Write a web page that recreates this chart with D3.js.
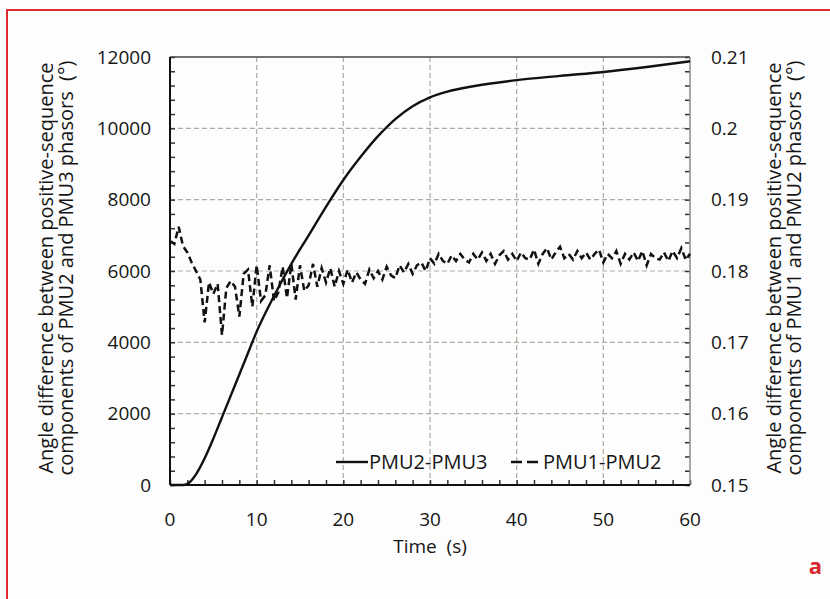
<!DOCTYPE html>
<html>
<head>
<meta charset="utf-8">
<script src="https://cdn.jsdelivr.net/npm/d3@7"></script>
<style>
  body { margin: 0; background: #fdfdfd; }
  svg text { font-family: "Open Sans", sans-serif; fill: #151515; }
</style>
</head>
<body>
<svg id="chart" width="830" height="599"></svg>
<script>
// PMU2-PMU3 (left axis, degrees)
const solidTime = [0, 1.5, 2, 3, 4, 5, 6, 7, 8, 9, 10, 12, 14, 16, 18, 20, 22, 24, 26, 28, 30, 32, 35, 40, 45, 50, 55, 60]
const solidValues = [0, 0, 30, 300, 750, 1300, 1900, 2500, 3100, 3700, 4300, 5300, 6200, 7000, 7800, 8550,
    9200, 9780, 10260, 10620, 10870, 11030, 11180, 11350, 11470, 11580, 11720, 11880]

// PMU1-PMU2 (right axis, degrees), sampled every 0.5 s from 0 to 60
const dashedStep = 0.5
const dashedValues = [
    0.1842, 0.1838, 0.1862, 0.1835, 0.1826, 0.1812,
    0.1800, 0.1788, 0.1728, 0.1784, 0.1768, 0.1782,
    0.1710, 0.1776, 0.1786, 0.1778, 0.1736, 0.1796,
    0.1802, 0.1750, 0.1808, 0.1758, 0.1766, 0.1808,
    0.1758, 0.1770, 0.1806, 0.1762, 0.1810, 0.1760,
    0.1808, 0.1772, 0.1780, 0.1810, 0.1778, 0.1804,
    0.1784, 0.1804, 0.1778, 0.1800, 0.1782, 0.1802,
    0.1784, 0.1798, 0.1788, 0.1782, 0.1802, 0.1790,
    0.1800, 0.1788, 0.1806, 0.1794, 0.1790, 0.1808,
    0.1798, 0.1810, 0.1796, 0.1808, 0.1812, 0.1800,
    0.1818, 0.1810, 0.1824, 0.1814, 0.1810, 0.1822,
    0.1814, 0.1824, 0.1816, 0.1812, 0.1824, 0.1816,
    0.1826, 0.1814, 0.1824, 0.1810, 0.1822, 0.1828,
    0.1816, 0.1824, 0.1814, 0.1826, 0.1818, 0.1816,
    0.1830, 0.1810, 0.1824, 0.1832, 0.1816, 0.1826,
    0.1834, 0.1818, 0.1824, 0.1816, 0.1828, 0.1818,
    0.1826, 0.1816, 0.1824, 0.1830, 0.1812, 0.1824,
    0.1818, 0.1828, 0.1810, 0.1824, 0.1816, 0.1826,
    0.1814, 0.1828, 0.1808, 0.1824, 0.1818, 0.1816,
    0.1826, 0.1814, 0.1828, 0.1818, 0.1832, 0.1816,
    0.1824
]

const xTicks = [0, 10, 20, 30, 40, 50, 60]
const leftTicks = [0, 2000, 4000, 6000, 8000, 10000, 12000]
const rightTicks = [0.15, 0.16, 0.17, 0.18, 0.19, 0.2, 0.21]
const seriesNames = ["PMU2-PMU3", "PMU1-PMU2"]

const plot = {left: 170, right: 690, top: 57, bottom: 485}
const svg = d3.select("#chart")

// red frame around the figure
svg.append("rect")
    .attr("x", 7).attr("y", 10)
    .attr("width", 840).attr("height", 620)
    .attr("fill", "none")
    .attr("stroke", "#de2b33")
    .attr("stroke-width", 2)

let x = d3.scaleLinear().domain([0, 60]).range([plot.left, plot.right])
let yL = d3.scaleLinear().domain([0, 12000]).range([plot.bottom, plot.top])
let yR = d3.scaleLinear().domain([0.15, 0.21]).range([plot.bottom, plot.top])

// dashed grid
let grid = svg.append("g")
    .attr("stroke", "#b3aaa2")
    .attr("stroke-width", 1.2)
    .attr("stroke-dasharray", "5,3")
grid.selectAll("line.v")
    .data(xTicks.slice(1, -1))
    .join("line")
        .attr("x1", d => x(d)).attr("x2", d => x(d))
        .attr("y1", plot.top).attr("y2", plot.bottom)
grid.selectAll("line.h")
    .data(leftTicks.slice(1, -1))
    .join("line")
        .attr("x1", plot.left).attr("x2", plot.right)
        .attr("y1", d => yL(d)).attr("y2", d => yL(d))

// axes with inward minor ticks
let xAxis = d3.axisTop(x).tickValues(d3.range(0, 61, 2)).tickSize(5).tickFormat("")
svg.append("g").attr("transform", `translate(0,${plot.bottom})`).call(xAxis)
let yAxisL = d3.axisRight(yL).tickValues(d3.range(0, 12001, 400)).tickSize(5).tickFormat("")
svg.append("g").attr("transform", `translate(${plot.left},0)`).call(yAxisL)
let yAxisR = d3.axisLeft(yR).tickValues(d3.range(0, 31).map(i => 0.15 + i * 0.002)).tickSize(5).tickFormat("")
svg.append("g").attr("transform", `translate(${plot.right},0)`).call(yAxisR)
svg.selectAll(".domain").remove()
svg.selectAll(".tick line").attr("stroke", "#333").attr("stroke-width", 1.5)

// plot frame
svg.append("line").attr("x1", plot.left).attr("x2", plot.right).attr("y1", plot.top).attr("y2", plot.top)
    .attr("stroke", "#444").attr("stroke-width", 1.5)
svg.append("line").attr("x1", plot.right).attr("x2", plot.right).attr("y1", plot.top).attr("y2", plot.bottom)
    .attr("stroke", "#888").attr("stroke-width", 1.5)
svg.append("line").attr("x1", plot.left).attr("x2", plot.left).attr("y1", plot.top).attr("y2", plot.bottom)
    .attr("stroke", "#111").attr("stroke-width", 2)
svg.append("line").attr("x1", plot.left).attr("x2", plot.right).attr("y1", plot.bottom).attr("y2", plot.bottom)
    .attr("stroke", "#111").attr("stroke-width", 2)

// tick labels
svg.append("g").selectAll("text")
    .data(xTicks)
    .join("text")
        .attr("x", d => x(d)).attr("y", 519)
        .attr("dy", "0.35em")
        .attr("text-anchor", "middle")
        .attr("font-size", 19)
        .text(d => d)
svg.append("g").selectAll("text")
    .data(leftTicks)
    .join("text")
        .attr("x", 151).attr("y", d => yL(d))
        .attr("dy", "0.35em")
        .attr("text-anchor", "end")
        .attr("font-size", 19)
        .text(d => d)
svg.append("g").selectAll("text")
    .data(rightTicks)
    .join("text")
        .attr("x", 711).attr("y", d => yR(d))
        .attr("dy", "0.35em")
        .attr("font-size", 19)
        .text(d => d3.format("~g")(d))

// axis titles
function sideTitle(cx, lines) {
    svg.append("text")
        .attr("transform", `translate(${cx},268) rotate(-90)`)
        .attr("text-anchor", "middle")
        .attr("font-size", 20)
        .selectAll("tspan")
        .data(lines)
        .join("tspan")
            .attr("x", 0)
            .attr("dy", (d, i) => i == 0 ? 0 : 20)
            .text(d => d)
}
sideTitle(53, ["Angle difference between positive-sequence", "components of PMU2 and PMU3 phasors\u00a0\u00a0(°)"])
sideTitle(781, ["Angle difference between positive-sequence", "components of PMU1 and PMU2 phasors\u00a0\u00a0(°)"])

svg.append("text")
    .attr("x", 430).attr("y", 546)
    .attr("dy", "0.35em")
    .attr("text-anchor", "middle")
    .attr("font-size", 19)
    .text("Time\u00a0\u00a0(s)")

// series
let solidData = solidTime.map((t, i) => [t, solidValues[i]])
let dashedData = dashedValues.map((v, i) => [i * dashedStep, v])

svg.append("path")
    .datum(dashedData)
    .attr("fill", "none")
    .attr("stroke", "#111")
    .attr("stroke-width", 2.5)
    .attr("stroke-dasharray", "7,4")
    .attr("d", d3.line().x(d => x(d[0])).y(d => yR(d[1])))

svg.append("path")
    .datum(solidData)
    .attr("fill", "none")
    .attr("stroke", "#111")
    .attr("stroke-width", 2.4)
    .attr("d", d3.line().curve(d3.curveMonotoneX).x(d => x(d[0])).y(d => yL(d[1])))

// legend
let legend = svg.append("g").attr("font-size", 20)
legend.append("line").attr("x1", 336).attr("x2", 368).attr("y1", 462).attr("y2", 462)
    .attr("stroke", "#111").attr("stroke-width", 2.4)
legend.append("text").attr("x", 369).attr("y", 462).attr("dy", "0.35em").text(seriesNames[0])
legend.append("line").attr("x1", 511).attr("x2", 542).attr("y1", 462).attr("y2", 462)
    .attr("stroke", "#111").attr("stroke-width", 2.4).attr("stroke-dasharray", "11,5")
legend.append("text").attr("x", 543).attr("y", 462).attr("dy", "0.35em").text(seriesNames[1])

// panel label
svg.append("text")
    .attr("x", 822).attr("y", 574)
    .attr("text-anchor", "end")
    .attr("font-size", 22)
    .attr("font-weight", "bold")
    .style("fill", "#d9262e")
    .text("a")
</script>
</body>
</html>
